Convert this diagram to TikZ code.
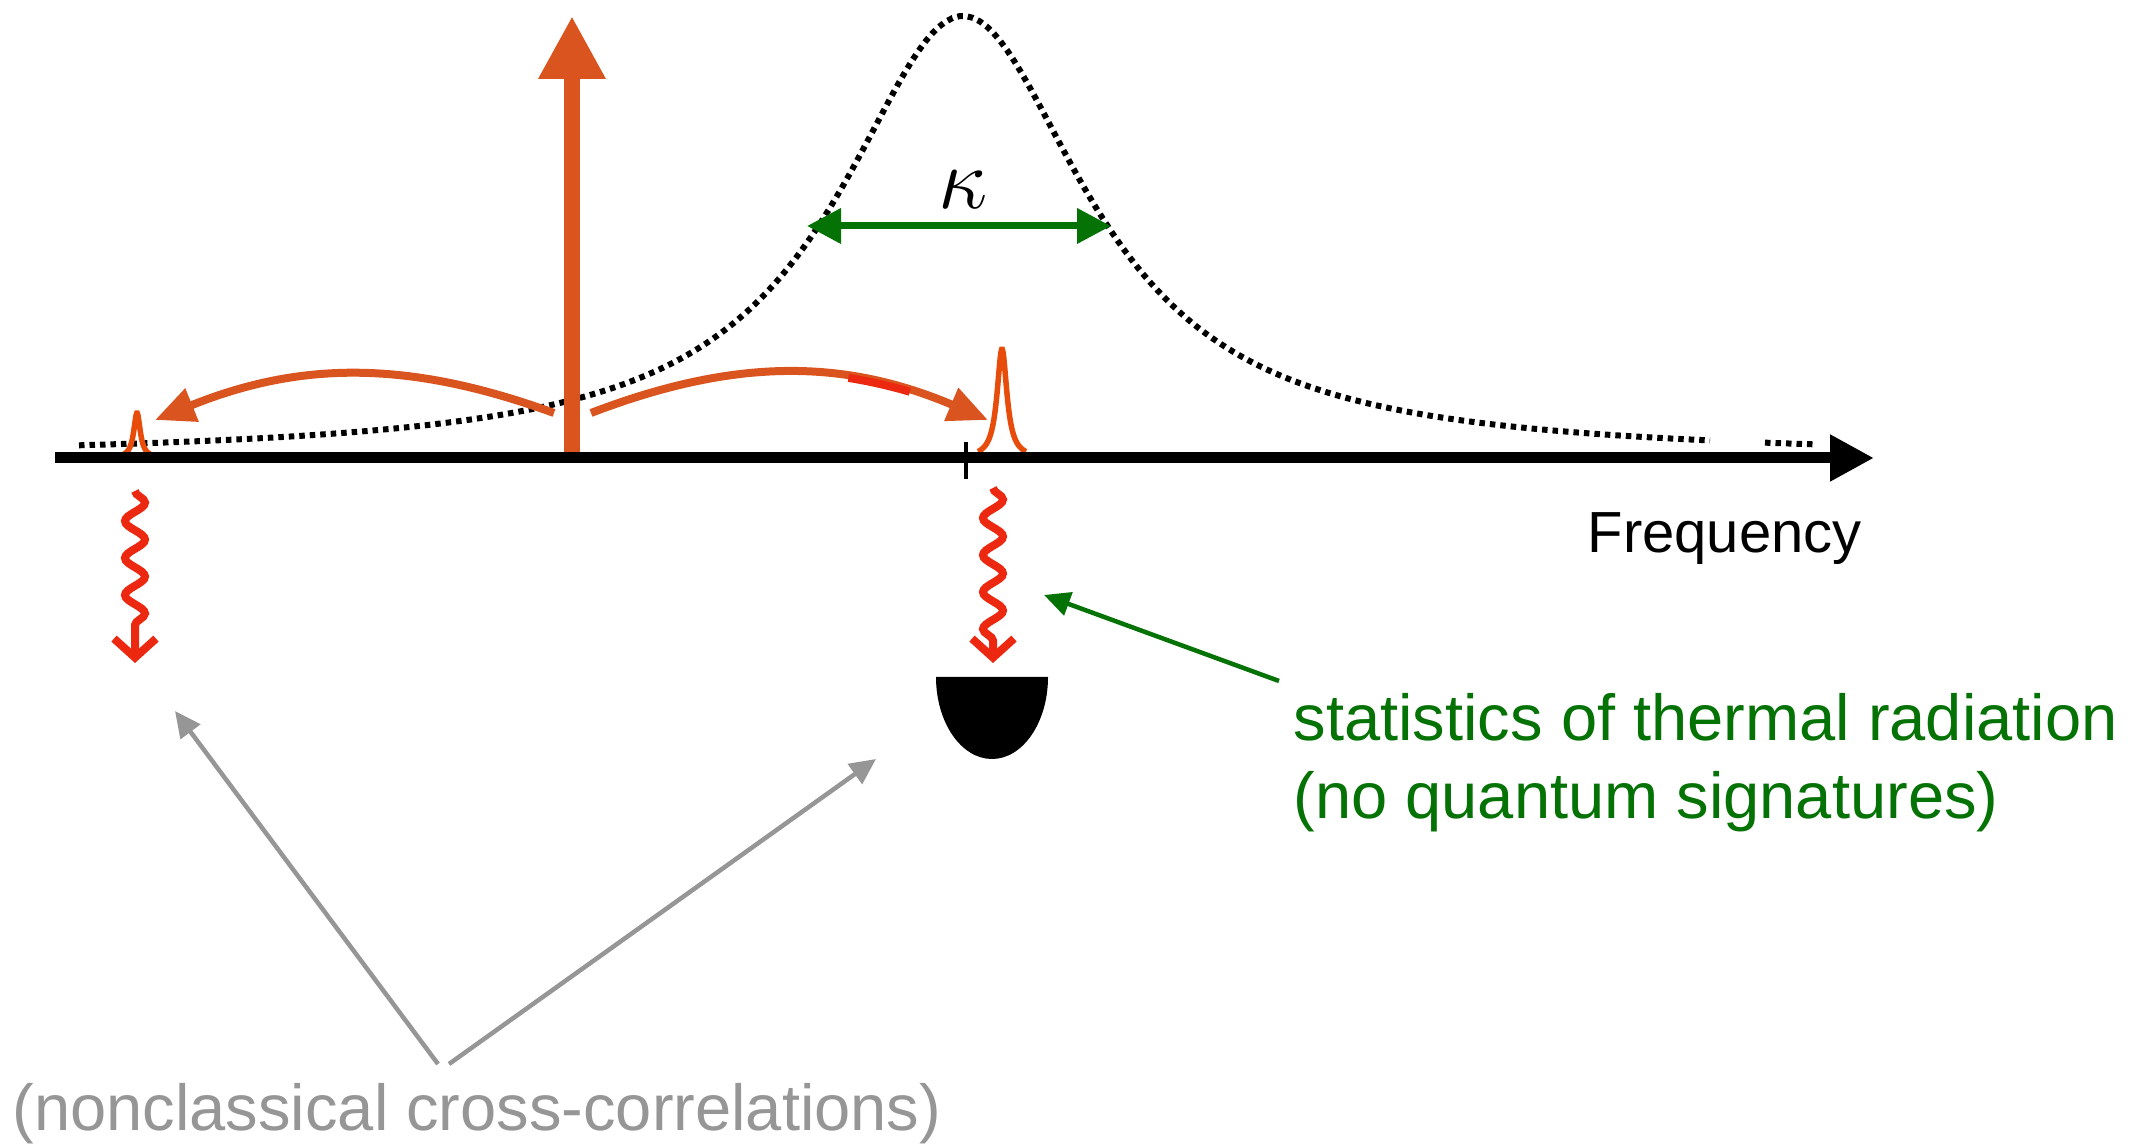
\documentclass[tikz,border=0pt]{standalone}
\usepackage{fontspec}
\setmainfont{Liberation Sans}
\usetikzlibrary{arrows.meta,decorations.pathmorphing}

\definecolor{pumporange}{RGB}{217,84,30}
\definecolor{peakorange}{RGB}{232,76,10}
\definecolor{photonred}{RGB}{236,40,16}
\definecolor{kapgreen}{RGB}{4,114,4}
\definecolor{notegray}{RGB}{150,150,150}

\begin{document}
\begin{tikzpicture}[x=0.1mm, y=0.1mm,
  axisline/.style={line width=1.1mm, -{Triangle[length=4.4mm,width=4.4mm]}},
  cavity/.style={line width=0.6mm, dash pattern=on 0.55mm off 0.5mm},
  pumparrow/.style={pumporange, line width=1.6mm, -{Triangle[length=6.3mm,width=6.3mm]}},
  scatter/.style={pumporange, line width=0.8mm, -{Triangle[length=4mm,width=3.4mm]}},
  sideband/.style={peakorange, line width=0.55mm},
  photon/.style={photonred, line width=0.8mm, -{Straight Barb[length=1.9mm,width=4.2mm]},
    decorate, decoration={snake, amplitude=1mm, segment length=3.7mm, post length=2mm}},
  kappaline/.style={kapgreen, line width=0.7mm,
    {Triangle[length=3.4mm,width=3.4mm]}-{Triangle[length=3.4mm,width=3.4mm]}},
  notearrow/.style={line width=0.45mm, -{Triangle[length=2.6mm,width=2.4mm]}},
  notetext/.style={inner sep=0, align=left, font=\fontsize{18.5}{22.2}\selectfont}]
  \useasboundingbox (0,0) rectangle (2145,1148);

  \coordinate (axisL) at (55,690);
  \coordinate (axisR) at (1874,690);
  \coordinate (pumpfoot) at (572,690);
  \coordinate (pumptop) at (572,1132);
  \coordinate (scatL) at (554,735);
  \coordinate (scatR) at (591,735);
  \coordinate (lsbtip) at (155,728);
  \coordinate (rsbtip) at (988,728);
  \coordinate (kl) at (807,922);
  \coordinate (kr) at (1111,922);

  % cavity line shape
  \draw[cavity] plot[domain=79:1710, samples=240] (\x,{690+442/(1+((\x-963)/152)^2)});
  \draw[cavity] plot[domain=1765:1813, samples=10] (\x,{690+442/(1+((\x-963)/152)^2)});

  \draw[pumparrow] (pumpfoot) -- (pumptop);                 % pump
  \draw[scatter] (scatL) to[bend right=21] (lsbtip);
  \draw[scatter] (scatR) to[bend left=22] (rsbtip);
  \draw[photonred, line width=0.8mm, dash pattern=on 0pt off 26.3mm on 6.3mm off 60mm]
    (scatR) to[bend left=22] (rsbtip);

  % sidebands
  \draw[sideband] plot[domain=122:152, samples=60] (\x,{690+45/(1+((\x-137)/4)^2)});
  \draw[sideband] plot[domain=978:1026, samples=80] (\x,{690+109/(1+((\x-1002)/6)^2)});

  \draw[axisline] (axisL) -- (axisR);
  \draw[line width=0.45mm] (966,669) -- (966,706);
  \node[anchor=base west, inner sep=0, font=\fontsize{16.5}{19.8}\selectfont] (freq) at (1587,595) {Frequency};

  \draw[kappaline] (kl) -- (kr);
  \node[font=\fontsize{23}{23}\selectfont] (kappa) at (963,958) {$\kappa$};

  % emitted photons
  \coordinate (lw1) at (135,657);
  \coordinate (lw2) at (135,485);
  \coordinate (rw1) at (993,660);
  \coordinate (rw2) at (993,485);
  \draw[photon] (lw1) -- (lw2);
  \draw[photon] (rw1) -- (rw2);

  % detector
  \fill (936,471) -- (1048,471) arc[start angle=0, end angle=-180, x radius=56, y radius=82] -- cycle;

  \node[notetext, kapgreen, anchor=north west] (thermal) at (1293,455)
    {statistics of thermal radiation\\(no quantum signatures)};
  \coordinate (thermfoot) at (1279,467);
  \coordinate (thermtip) at (1044,553);
  \draw[notearrow, kapgreen] (thermfoot) -- (thermtip);

  \node[notetext, notegray, anchor=base west] (cross) at (12,17) {(nonclassical cross-correlations)};
  \coordinate (crossL) at (438,84);
  \coordinate (crossR) at (449,84);
  \coordinate (lwtip) at (175,437);
  \coordinate (dettip) at (876,389);
  \draw[notearrow, notegray] (crossL) -- (lwtip);
  \draw[notearrow, notegray] (crossR) -- (dettip);
\end{tikzpicture}
\end{document}
